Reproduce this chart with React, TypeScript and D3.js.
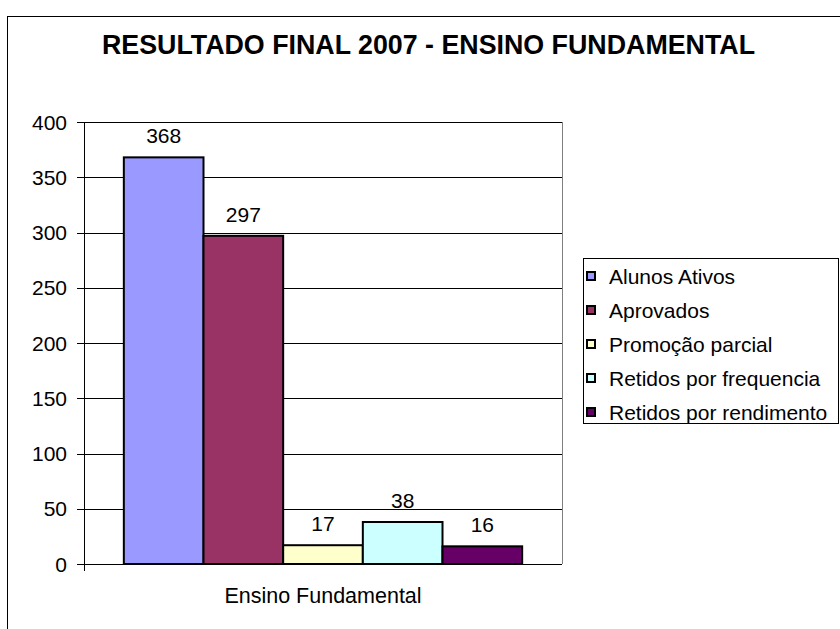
import React from "react";
import * as d3 from "d3";

const title = "RESULTADO FINAL 2007 - ENSINO FUNDAMENTAL";
const categories = ["Ensino Fundamental"];
const seriesNames = [
  "Alunos Ativos",
  "Aprovados",
  "Promoção parcial",
  "Retidos por frequencia",
  "Retidos por rendimento",
];
const seriesValues = [368, 297, 17, 38, 16];
const seriesColors = ["#9999FF", "#993366", "#FFFFCC", "#CCFFFF", "#660066"];
const yTicks = [0, 50, 100, 150, 200, 250, 300, 350, 400];

const FONT = "'Liberation Sans', Arial, Helvetica, sans-serif";

export default function App() {
  const W = 840;
  const H = 629;
  const plot = { left: 84, right: 562, top: 122, bottom: 564 };

  const y = d3.scaleLinear().domain([0, 400]).range([plot.bottom, plot.top]);
  const xCat = d3
    .scaleBand<string>()
    .domain(categories)
    .range([plot.left, plot.right])
    .paddingInner(0)
    .paddingOuter(0.1);
  const xSeries = d3
    .scaleBand<string>()
    .domain(seriesNames)
    .range([0, xCat.bandwidth()])
    .padding(0);

  const legendX = 583;
  const legendY = 258;
  const legendW = 255;
  const legendH = 165;
  const legendRow = 34;
  const legendFirst = 276;

  return (
    <svg
      width={W}
      height={H}
      style={{ position: "absolute", left: 0, top: 0, background: "#fff" }}
      fontFamily={FONT}
    >
      <rect x={0} y={0} width={W} height={H} fill="#fff" />
      <rect x={7.5} y={16.5} width={900} height={700} fill="#fff" stroke="#000" strokeWidth={1} />

      <text x={428.5} y={54} textAnchor="middle" fontSize={26.8} fontWeight="bold" fill="#000">
        {title}
      </text>

      {/* gridlines and y ticks */}
      {yTicks.map((t) => (
        <g key={t}>
          {t > 0 && (
            <line x1={plot.left} x2={plot.right} y1={Math.round(y(t)) + 0.5} y2={Math.round(y(t)) + 0.5} stroke="#000" strokeWidth={1} />
          )}
          <line x1={plot.left - 7} x2={plot.left} y1={Math.round(y(t)) + 0.5} y2={Math.round(y(t)) + 0.5} stroke="#000" strokeWidth={1} />
          <text x={67} y={y(t)} dy="0.36em" textAnchor="end" fontSize={21} fill="#000">
            {t}
          </text>
        </g>
      ))}

      {/* plot area right border */}
      <line x1={plot.right + 0.5} x2={plot.right + 0.5} y1={plot.top} y2={plot.bottom} stroke="#808080" strokeWidth={1} />

      {/* bars */}
      {categories.map((c) => (
        <g key={c} transform={`translate(${xCat(c)},0)`}>
          {seriesNames.map((s, i) => {
            const v = seriesValues[i];
            const bx = xSeries(s)!;
            const bw = xSeries.bandwidth();
            return (
              <g key={s}>
                <rect
                  x={bx}
                  y={y(v)}
                  width={bw}
                  height={plot.bottom - y(v)}
                  fill={seriesColors[i]}
                  stroke="#000"
                  strokeWidth={2}
                />
                <text x={bx + bw / 2} y={y(v) - 14} textAnchor="middle" fontSize={21} fill="#000">
                  {v}
                </text>
              </g>
            );
          })}
        </g>
      ))}

      {/* axes */}
      <line x1={plot.left} x2={plot.right} y1={plot.bottom + 0.5} y2={plot.bottom + 0.5} stroke="#000" strokeWidth={1} />
      <line x1={plot.left + 0.5} x2={plot.left + 0.5} y1={plot.top} y2={plot.bottom + 7} stroke="#000" strokeWidth={1} />

      {categories.map((c) => (
        <text key={c} x={xCat(c)! + xCat.bandwidth() / 2} y={603} textAnchor="middle" fontSize={21.5} fill="#000">
          {c}
        </text>
      ))}

      {/* legend */}
      <rect x={legendX + 0.5} y={legendY + 0.5} width={legendW} height={legendH} fill="#fff" stroke="#000" strokeWidth={1} />
      {seriesNames.map((s, i) => {
        const cy = legendFirst + i * legendRow;
        return (
          <g key={s}>
            <rect x={587} y={cy - 4} width={8} height={8} fill={seriesColors[i]} stroke="#000" strokeWidth={2} />
            <text x={609} y={cy} dy="0.36em" fontSize={21} fill="#000">
              {s}
            </text>
          </g>
        );
      })}
    </svg>
  );
}
